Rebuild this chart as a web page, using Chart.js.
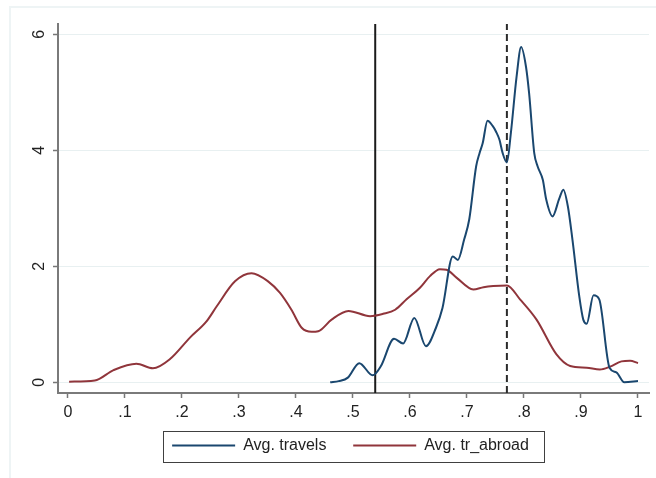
<!DOCTYPE html>
<html>
<head>
<meta charset="utf-8">
<script src="https://cdn.jsdelivr.net/npm/chart.js@4.4.1/dist/chart.umd.min.js"></script>
<style>
  body { margin: 0; background: #fff; }
  #wrap { position: relative; width: 656px; height: 478px; overflow: hidden; }
  #frame { position: absolute; left: 9px; top: 6px; width: 670px; height: 490px; border: 2px solid #eef4f5; }
  canvas { position: absolute; left: 0; top: 0; }
</style>
</head>
<body>
<div id="wrap">
  <div id="frame"></div>
  <canvas id="grafico" width="656" height="478"></canvas>
</div>
<script>
// densidades
var travelsX = [0.46, 0.475, 0.491, 0.511, 0.5345, 0.549, 0.572, 0.588, 0.6076, 0.628, 0.6456, 0.657, 0.675, 0.684, 0.695, 0.704, 0.716, 0.722, 0.7275, 0.736, 0.745, 0.751, 0.757, 0.7626, 0.770, 0.777, 0.787, 0.795, 0.8035, 0.809, 0.818, 0.824, 0.833, 0.839, 0.850, 0.862, 0.869, 0.877, 0.885, 0.897, 0.904, 0.910, 0.922, 0.932, 0.950, 0.962, 0.976, 1.0];
var travelsY = [0.0, 0.02, 0.08, 0.33, 0.12, 0.28, 0.75, 0.67, 1.11, 0.62, 0.94, 1.28, 2.17, 2.11, 2.46, 2.81, 3.72, 3.95, 4.12, 4.51, 4.42, 4.32, 4.18, 3.95, 3.79, 4.30, 5.27, 5.78, 5.44, 4.98, 3.95, 3.72, 3.49, 3.15, 2.86, 3.17, 3.32, 3.03, 2.46, 1.48, 1.08, 1.01, 1.50, 1.43, 0.25, 0.17, 0.0, 0.02];

var abroadX = [0.002, 0.047, 0.08, 0.12, 0.149, 0.179, 0.214, 0.243, 0.261, 0.293, 0.322, 0.351, 0.372, 0.392, 0.41, 0.4275, 0.439, 0.4625, 0.492, 0.530, 0.553, 0.574, 0.594, 0.6175, 0.635, 0.6526, 0.664, 0.682, 0.711, 0.729, 0.746, 0.770, 0.793, 0.822, 0.857, 0.881, 0.91, 0.933, 0.951, 0.971, 0.986, 1.0];
var abroadY = [0.01, 0.03, 0.21, 0.32, 0.24, 0.40, 0.77, 1.05, 1.31, 1.74, 1.88, 1.74, 1.54, 1.25, 0.94, 0.87, 0.88, 1.08, 1.23, 1.14, 1.18, 1.25, 1.43, 1.63, 1.83, 1.95, 1.94, 1.80, 1.60, 1.64, 1.66, 1.67, 1.43, 1.08, 0.48, 0.28, 0.25, 0.22, 0.27, 0.36, 0.37, 0.33];

var seriesLabels = ["Avg. travels", "Avg. tr_abroad"];
var xLines = [0.539, 0.770];
var yTicks = [0, 2, 4, 6];
var xTicks = [0, 0.1, 0.2, 0.3, 0.4, 0.5, 0.6, 0.7, 0.8, 0.9, 1];
var xTickLabels = ["0", ".1", ".2", ".3", ".4", ".5", ".6", ".7", ".8", ".9", "1"];

var xMin = -0.0175, xMax = 1.0193;
var yMin = -0.185, yMax = 6.177;

var fonte = "'Liberation Sans', Arial, sans-serif";

function pontos(xs, ys) {
  return xs.map(function (x, i) {
    return { x: x, y: ys[i] };
  });
}

function linhaVertical(x) {
  return [{ x: x, y: yMin }, { x: x, y: yMax }];
}

// legenda centrada sob a area do grafico e com caixa em volta, como no stata
var caixaLegenda = {
  id: "caixaLegenda",
  afterLayout: function (chart) {
    var shift = 21;
    chart.legend.left += shift;
    chart.legend.right += shift;
  },
  afterDraw: function (chart) {
    var hb = chart.legend.legendHitBoxes;
    if (!hb || !hb.length) return;
    var first = hb[0];
    var last = hb[hb.length - 1];
    var cy = first.top + first.height / 2;
    var left = Math.round(first.left - 9) + 0.5;
    var right = Math.round(last.left + last.width + 15) + 0.5;
    var ctx = chart.ctx;
    ctx.save();
    ctx.strokeStyle = "#404040";
    ctx.lineWidth = 1;
    ctx.strokeRect(left, Math.round(cy - 15) + 0.5, right - left, 31);
    ctx.restore();
  }
};

var graficoData = {
  datasets: [
    {
      label: seriesLabels[0],
      data: pontos(travelsX, travelsY),
      borderColor: "#1a476f",
      backgroundColor: "#1a476f",
      borderWidth: 2,
      pointRadius: 0,
      cubicInterpolationMode: "monotone",
    },
    {
      label: seriesLabels[1],
      data: pontos(abroadX, abroadY),
      borderColor: "#90353b",
      backgroundColor: "#90353b",
      borderWidth: 2,
      pointRadius: 0,
      cubicInterpolationMode: "monotone",
    },
    {
      label: "xline1",
      data: linhaVertical(xLines[0]),
      borderColor: "#1b1b1b",
      borderWidth: 2,
      pointRadius: 0,
    },
    {
      label: "xline2",
      data: linhaVertical(xLines[1]),
      borderColor: "#2b2b2b",
      borderWidth: 2,
      borderDash: [7, 4],
      pointRadius: 0,
    },
  ],
};

new Chart(document.getElementById("grafico"), {
  type: "line",
  data: graficoData,
  plugins: [caixaLegenda],
  options: {
    responsive: false,
    animation: false,
    layout: { padding: { left: 10, right: 7, top: 24, bottom: 14.5 } },
    plugins: {
      tooltip: { enabled: false },
      legend: {
        position: "bottom",
        labels: {
          usePointStyle: true,
          pointStyle: "line",
          pointStyleWidth: 63,
          padding: 9,
          color: "#222",
          font: { size: 16, family: fonte },
          generateLabels: function (chart) {
            var items = Chart.defaults.plugins.legend.labels.generateLabels(chart);
            items = items.filter(function (it) {
              return it.datasetIndex < 2;
            });
            items[0].text = items[0].text + "    ";
            return items;
          },
        },
      },
    },
    scales: {
      x: {
        type: "linear",
        min: xMin,
        max: xMax,
        afterBuildTicks: function (scale) {
          scale.ticks = xTicks.map(function (v) { return { value: v }; });
        },
        afterFit: function (scale) {
          scale.height = 35.5;
        },
        ticks: {
          autoSkip: false,
          maxRotation: 0,
          padding: 5,
          color: "#222",
          font: { size: 16, family: fonte },
          callback: function (value, index) {
            return xTickLabels[index];
          },
        },
        grid: {
          drawOnChartArea: false,
          drawTicks: true,
          tickLength: 5,
          tickColor: "#777",
          tickWidth: 1.5,
        },
        border: { color: "#7a7a7a", width: 2 },
      },
      y: {
        type: "linear",
        min: yMin,
        max: yMax,
        afterBuildTicks: function (scale) {
          scale.ticks = yTicks.map(function (v) { return { value: v }; });
        },
        afterFit: function (scale) {
          scale.width = 48;
        },
        ticks: {
          autoSkip: false,
          minRotation: 90,
          maxRotation: 90,
          crossAlign: "center",
          padding: 8.5,
          color: "#222",
          font: { size: 16, family: fonte },
          callback: function (value) {
            return String(value);
          },
        },
        grid: {
          color: "#e8f0f1",
          lineWidth: 1,
          drawTicks: true,
          tickLength: 5,
          tickColor: "#777",
          tickWidth: 1.5,
        },
        border: { color: "#7a7a7a", width: 2 },
      },
    },
  },
});
</script>
</body>
</html>
